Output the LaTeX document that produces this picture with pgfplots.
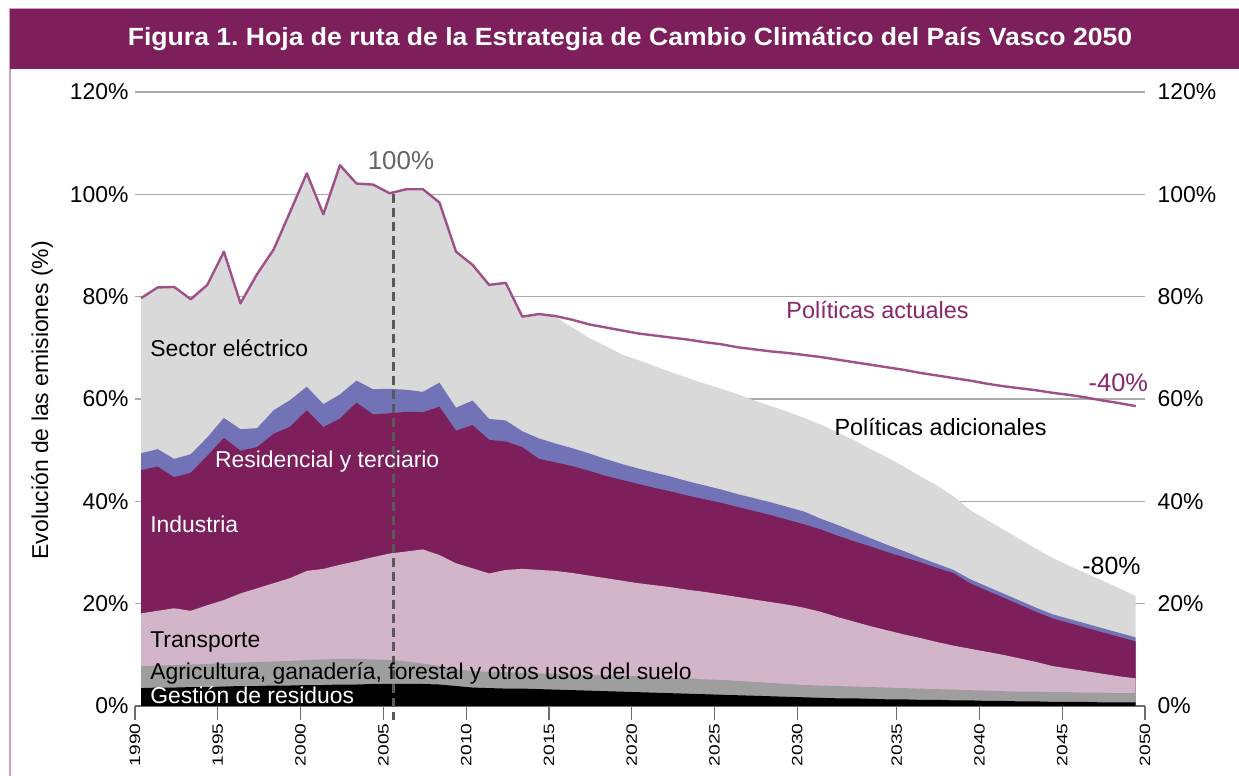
\documentclass[border=0pt]{standalone}
\usepackage{fontspec}
\setmainfont{Liberation Sans}
\usepackage{pgfplots}
\usepackage{pgfplotstable}
\pgfplotsset{compat=1.18}
\usepackage{graphicx}
\frenchspacing

\definecolor{titlepurple}{RGB}{124,31,91}
\definecolor{indpurple}{RGB}{124,31,91}
\definecolor{resblue}{RGB}{114,115,182}
\definecolor{elecgray}{RGB}{217,217,217}
\definecolor{transpink}{RGB}{211,181,201}
\definecolor{agrigray}{RGB}{158,158,158}
\definecolor{lineP}{RGB}{160,80,136}
\definecolor{labelP}{RGB}{137,38,108}
\definecolor{gridgray}{RGB}{170,170,170}
\definecolor{borderpink}{RGB}{205,160,190}

% cumulative tops: W waste, A +agri, T +transport, I +industry, R +residential, E +electric (total), P current policies
\pgfplotstableread{
year W A T I R E P
1990 3.5 7.8 18.1 46.1 49.4 79.7 79.7
1991 3.6 7.9 18.6 46.8 50.2 81.8 81.8
1992 3.6 8.0 19.1 44.7 48.3 81.9 81.9
1993 3.7 8.1 18.6 45.6 49.2 79.5 79.5
1994 3.7 8.2 19.7 48.9 52.5 82.3 82.3
1995 3.8 8.4 20.7 52.4 56.3 88.8 88.8
1996 3.9 8.5 22.0 49.9 54.1 78.7 78.7
1997 3.9 8.6 23.0 50.6 54.3 84.4 84.4
1998 4.0 8.7 24.0 53.2 57.8 89.2 89.2
1999 4.0 8.8 25.0 54.6 59.8 96.6 96.6
2000 4.1 9.0 26.4 57.8 62.4 104.1 104.1
2001 4.1 9.1 26.8 54.5 59.0 96.1 96.1
2002 4.2 9.2 27.6 56.2 60.9 105.7 105.7
2003 4.2 9.2 28.3 59.3 63.6 102.1 102.1
2004 4.3 9.1 29.1 57.0 61.9 101.9 101.9
2005 4.3 9.0 29.8 57.2 62.0 100.2 100.2
2006 4.3 8.7 30.2 57.5 61.8 101.0 101.0
2007 4.3 8.3 30.6 57.4 61.4 101.0 101.0
2008 4.2 7.8 29.5 58.5 63.2 98.4 98.4
2009 3.9 7.2 27.9 53.8 58.3 88.8 88.8
2010 3.6 6.8 26.9 54.9 59.7 86.2 86.2
2011 3.5 6.7 25.9 52.0 56.1 82.3 82.3
2012 3.4 6.6 26.6 51.7 55.8 82.7 82.7
2013 3.4 6.5 26.8 50.6 53.7 76.1 76.1
2014 3.3 6.4 26.6 48.3 52.3 76.6 76.6
2015 3.2 6.3 26.4 47.6 51.3 76.0 76.2
2016 3.1 6.2 26.0 46.9 50.4 74.0 75.5
2017 3.0 6.1 25.5 46.0 49.4 72.0 74.6
2018 2.9 6.0 25.0 45.0 48.3 70.4 74.0
2019 2.8 5.9 24.5 44.2 47.3 68.7 73.4
2020 2.7 5.8 24.0 43.4 46.4 67.6 72.8
2021 2.6 5.6 23.6 42.6 45.6 66.4 72.4
2022 2.5 5.5 23.2 41.9 44.8 65.2 72.0
2023 2.4 5.4 22.7 41.1 43.9 64.1 71.6
2024 2.3 5.2 22.3 40.4 43.1 63.0 71.1
2025 2.2 5.1 21.8 39.7 42.3 62.0 70.7
2026 2.1 4.9 21.3 38.9 41.4 60.9 70.1
2027 2.0 4.7 20.8 38.1 40.6 59.7 69.7
2028 1.9 4.5 20.3 37.3 39.8 58.6 69.3
2029 1.8 4.3 19.8 36.4 38.9 57.5 69.0
2030 1.7 4.1 19.2 35.5 38.0 56.3 68.6
2031 1.6 4.0 18.4 34.5 36.6 55.0 68.2
2032 1.5 3.9 17.4 33.3 35.4 53.5 67.7
2033 1.5 3.8 16.5 32.2 34.1 52.0 67.2
2034 1.4 3.7 15.6 31.2 32.8 50.2 66.7
2035 1.3 3.6 14.8 30.1 31.5 48.6 66.2
2036 1.3 3.5 14.0 29.1 30.3 46.8 65.7
2037 1.2 3.4 13.3 28.1 29.0 44.9 65.1
2038 1.2 3.3 12.5 27.0 27.8 43.1 64.6
2039 1.1 3.2 11.8 26.0 26.6 41.0 64.1
2040 1.1 3.1 11.2 24.0 24.8 38.3 63.6
2041 1.0 3.0 10.6 22.6 23.4 36.4 63.0
2042 1.0 2.9 10.0 21.2 22.0 34.5 62.5
2043 0.9 2.8 9.3 19.8 20.6 32.6 62.1
2044 0.9 2.8 8.6 18.4 19.2 30.7 61.7
2045 0.8 2.7 7.8 17.1 17.9 28.9 61.2
2046 0.8 2.7 7.3 16.2 17.0 27.4 60.8
2047 0.8 2.6 6.8 15.3 16.1 25.9 60.3
2048 0.7 2.6 6.3 14.4 15.2 24.5 59.7
2049 0.7 2.5 5.8 13.5 14.3 23.0 59.2
2050 0.7 2.5 5.4 12.6 13.4 21.5 58.6
}\emis

\newcommand{\txt}{\fontsize{23}{27}\selectfont}
\newcommand{\yr}[1]{\scalebox{1.28}[1]{#1}}

\begin{document}
\begin{tikzpicture}
\useasboundingbox (0bp,0bp) rectangle (1239bp,776bp);
\fill[white] (0bp,0bp) rectangle (1239bp,776bp);
\draw[borderpink, line width=1.2bp] (10bp,0bp) -- (10bp,767.5bp) -- (1239bp,767.5bp);
\fill[titlepurple] (10bp,706.7bp) rectangle (1239bp,767bp);
\node[white, font=\bfseries\fontsize{25}{30}\selectfont] at (630bp,736.5bp)
  {\scalebox{1.067}[1]{Figura 1. Hoja de ruta de la Estrategia de Cambio Climático del País Vasco 2050}};

\begin{axis}[
  at={(135bp,70bp)}, anchor=south west,
  scale only axis, width=1010bp, height=614bp,
  xmin=1989.638, xmax=2050.56, ymin=0, ymax=120,
  clip=false,
  axis x line*=bottom, axis y line*=left,
  y axis line style={draw=none},
  x axis line style={draw=gray!85!black, line width=1.2bp, -},
  xtick={1989.638,1994.632,1999.625,2004.619,2009.613,2014.606,2019.600,2024.594,2029.587,2035.579,2040.573,2045.567,2050.56},
  xticklabels={\yr{1990},\yr{1995},\yr{2000},\yr{2005},\yr{2010},\yr{2015},\yr{2020},\yr{2025},\yr{2030},\yr{2035},\yr{2040},\yr{2045},\yr{2050}},
  xtick style={draw=gray!85!black, line width=1.2bp},
  tick align=outside,
  x tick label style={rotate=90, anchor=east, font=\fontsize{15}{15}\selectfont},
  major tick length=14bp,
  ytick={0,20,40,60,80,100,120},
  yticklabels={0\%,20\%,40\%,60\%,80\%,100\%,120\%},
  ytick style={draw=none},
  y tick label style={font=\txt, xshift=11bp},
  ymajorgrids,
  major grid style={draw=gridgray, line width=1.1bp},
  ylabel={Evolución de las emisiones (\%)},
  ylabel style={font=\txt, at={(axis description cs:-0.092,0.498)}, anchor=center},
]
\addplot[fill=elecgray, draw=none] table[x=year, y=E] {\emis} \closedcycle;
\addplot[fill=resblue, draw=none] table[x=year, y=R] {\emis} \closedcycle;
\addplot[fill=indpurple, draw=none] table[x=year, y=I] {\emis} \closedcycle;
\addplot[fill=transpink, draw=none] table[x=year, y=T] {\emis} \closedcycle;
\addplot[fill=agrigray, draw=none] table[x=year, y=A] {\emis} \closedcycle;
\addplot[fill=black, draw=none] table[x=year, y=W] {\emis} \closedcycle;
\addplot[lineP, line width=2.4bp, line join=round] table[x=year, y=P] {\emis};

\draw[black!65, line width=2.6bp, dash pattern=on 9bp off 5bp] (axis cs:2005.22,100) -- (axis cs:2005.22,-2.7);
\node[black!60, font=\fontsize{26}{30}\selectfont] at (axis cs:2005.68,106.5) {100\%};

\node[anchor=west, font=\txt, black] at (axis cs:1990.35,70.0) {Sector eléctrico};
\node[anchor=west, font=\txt, white] at (axis cs:1994.26,47.7) {Residencial y terciario};
\node[anchor=west, font=\txt, white] at (axis cs:1990.35,35.6) {Industria};
\node[anchor=west, font=\txt, black] at (axis cs:1990.35,12.5) {Transporte};
\node[anchor=west, font=\txt, black] at (axis cs:1990.35,6.45) {Agricultura, ganadería, forestal y otros usos del suelo};
\node[anchor=west, font=\txt, white] at (axis cs:1990.35,2.15) {Gestión de residuos};
\node[anchor=west, font=\fontsize{23.5}{27}\selectfont, labelP] at (axis cs:2028.72,77.4) {Políticas actuales};
\node[anchor=west, font=\fontsize{23.5}{27}\selectfont, black] at (axis cs:2031.62,54.5) {Políticas adicionales};
\node[anchor=east, font=\fontsize{25.5}{29}\selectfont, labelP] at (axis cs:2050.95,63.2) {-40\%};
\node[anchor=east, font=\fontsize{25}{29}\selectfont, black] at (axis cs:2050.5,27.3) {-80\%};
\end{axis}

\begin{axis}[
  at={(135bp,70bp)}, anchor=south west,
  scale only axis, width=1010bp, height=614bp,
  xmin=1989.638, xmax=2050.56, ymin=0, ymax=120,
  axis x line=none, axis y line*=right,
  y axis line style={draw=none},
  ytick={0,20,40,60,80,100,120},
  yticklabels={0\%,20\%,40\%,60\%,80\%,100\%,120\%},
  ytick style={draw=none},
  y tick label style={font=\txt, xshift=9bp},
]
\addplot[draw=none] coordinates {(2000,0)};
\end{axis}
\end{tikzpicture}
\end{document}
